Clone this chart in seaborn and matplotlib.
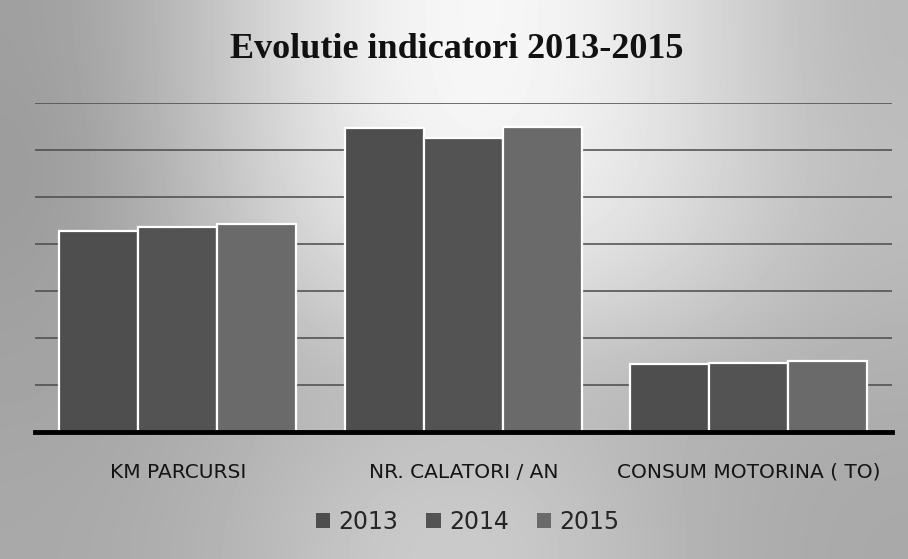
import numpy as np
import pandas as pd
import matplotlib
matplotlib.use("Agg")
import matplotlib.pyplot as plt
import seaborn as sns

# Indicators and yearly values (relative units, as charted)
categories = ["KM PARCURSI", "NR. CALATORI / AN", "CONSUM MOTORINA ( TO)"]
years = ["2013", "2014", "2015"]
values_2013 = [4.28, 6.47, 1.45]
values_2014 = [4.36, 6.26, 1.47]
values_2015 = [4.43, 6.49, 1.51]
title = "Evolutie indicatori 2013-2015"

df = pd.DataFrame({
    "indicator": categories * 3,
    "an": [y for y in years for _ in categories],
    "valoare": values_2013 + values_2014 + values_2015,
})

sns.set_theme(style="white")
plt.rcParams["font.family"] = ["DejaVu Sans"]

fig = plt.figure(figsize=(9.08, 5.59), dpi=100)

# Soft grey page tone behind the chart
bg = fig.add_axes([0, 0, 1, 1], zorder=0)
tone = np.array([
    [0.62, 0.78, 0.96, 0.98, 0.88, 0.72],
    [0.60, 0.78, 0.95, 0.97, 0.88, 0.74],
    [0.62, 0.74, 0.88, 0.90, 0.84, 0.72],
    [0.64, 0.68, 0.72, 0.73, 0.70, 0.68],
    [0.66, 0.70, 0.80, 0.80, 0.70, 0.66],
])
bg.imshow(tone, cmap="gray", vmin=0, vmax=1, aspect="auto",
          interpolation="bicubic", extent=[0, 1, 0, 1])
bg.set_axis_off()

ax = fig.add_axes([0.0385, 0.227, 0.9435, 0.589], zorder=1)
ax.patch.set_alpha(0)

palette = {"2013": "#4e4e4e", "2014": "#535353", "2015": "#6a6a6a"}
sns.barplot(data=df, x="indicator", y="valoare", hue="an", order=categories,
            hue_order=years, palette=palette, width=0.83, edgecolor="white",
            linewidth=1.6, saturation=1, ax=ax, zorder=3)

ax.set_ylim(0, 7)
ax.set_xlim(-0.5, 2.5)
ax.set_yticks(range(1, 8))
ax.set_yticklabels([])
ax.yaxis.grid(True, color="#4a4a4a", linewidth=1.1, zorder=0)
ax.set_axisbelow(True)
for s in ["top", "right", "left"]:
    ax.spines[s].set_visible(False)
ax.spines["bottom"].set_color("black")
ax.spines["bottom"].set_linewidth(3.5)
ax.spines["bottom"].set_zorder(5)
ax.tick_params(axis="both", length=0)
ax.tick_params(axis="x", pad=22)
ax.set_xlabel("")
ax.set_ylabel("")
for lab in ax.get_xticklabels():
    lab.set_fontsize(14.5)
    lab.set_color("#151515")

ax.legend_.remove()
handles = [plt.Rectangle((0, 0), 1, 1, facecolor=palette[y], edgecolor="none") for y in years]
fig.legend(handles, years, loc="center", bbox_to_anchor=(0.515, 0.066), ncol=3,
           frameon=False, fontsize=17, handlelength=0.6, handleheight=0.6,
           handletextpad=0.35, columnspacing=1.2)

fig.text(0.503, 0.912, title, ha="center", va="center", fontsize=26,
         fontweight="bold", family=["Liberation Serif", "DejaVu Serif"], color="#111111")

fig.savefig("out.png", dpi=100)
